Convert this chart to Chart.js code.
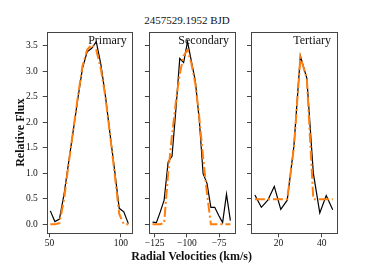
<!DOCTYPE html>
<html>
<head>
<meta charset="utf-8">
<script src="https://cdn.jsdelivr.net/npm/chart.js@4.4.0/dist/chart.umd.min.js"></script>
<style>
  html, body { margin: 0; padding: 0; background: #fff; }
  #fig { position: relative; width: 374px; height: 267px; overflow: hidden; font-family: "Liberation Serif", serif; }
  canvas { position: absolute; top: 0; }
  .txt { position: absolute; white-space: nowrap; color: #111; line-height: 1; }
  #title { font-size: 11px; top: 15px; left: 187px; transform: translateX(-50%); }
  #xlabel { font-size: 12px; font-weight: bold; top: 249.5px; left: 191.7px; transform: translateX(-50%); }
</style>
</head>
<body>
<div id="fig">
  <div class="txt" id="title">2457529.1952 BJD</div>
  <canvas id="c1" width="140" height="267" style="left:0px"></canvas>
  <canvas id="c2" width="113" height="267" style="left:129px"></canvas>
  <canvas id="c3" width="113" height="267" style="left:231px"></canvas>
  <div class="txt" id="xlabel">Radial Velocities (km/s)</div>
</div>
<script>
// values
const primaryVel = [50.5, 53.7, 56.9, 60.2, 63.4, 66.6, 69.8, 73.0, 76.3, 79.5, 82.7, 85.9, 89.1, 92.4, 95.6, 98.8, 102.0, 105.2];
const primaryObs = [0.26, 0.05, 0.10, 0.60, 1.22, 1.84, 2.46, 3.05, 3.38, 3.45, 3.58, 3.14, 2.52, 1.76, 1.05, 0.31, 0.24, 0.01];
const primaryFit = [0, 0, 0.02, 0.50, 1.20, 1.85, 2.50, 3.10, 3.42, 3.52, 3.42, 3.05, 2.50, 1.75, 0.98, 0.20, 0, 0];

const secondaryVel = [-126.6, -123.6, -120.6, -117.6, -114.5, -111.5, -108.5, -105.5, -102.5, -99.5, -96.5, -93.4, -90.4, -87.4, -84.4, -81.4, -78.4, -75.3, -72.3, -69.3, -66.3];
const secondaryObs = [0.04, 0.03, 0.24, 0.47, 1.22, 1.33, 2.25, 3.25, 3.17, 3.58, 3.20, 2.80, 2.05, 0.99, 0.80, 0.33, 0.33, 0.17, 0.03, 0.59, 0.07];
const secondaryFit = [0, 0, 0, 0.02, 1.00, 1.75, 2.40, 2.95, 3.30, 3.42, 3.15, 2.75, 2.10, 1.30, 0.60, 0, 0, 0, 0, 0, 0];

const tertiaryVel = [9.0, 12.0, 15.0, 18.0, 21.0, 24.0, 27.1, 30.1, 33.1, 36.1, 39.1, 42.1, 45.1];
const tertiaryObs = [0.57, 0.33, 0.47, 0.74, 0.29, 0.47, 1.53, 3.30, 2.86, 1.00, 0.22, 0.56, 0.28];
const tertiaryFit = [0.49, 0.49, 0.49, 0.49, 0.49, 0.49, 1.50, 3.28, 2.85, 0.49, 0.49, 0.49, 0.49];

const fluxTicks = [0, 0.5, 1.0, 1.5, 2.0, 2.5, 3.0, 3.5];
const primaryTicks = [50, 100];
const secondaryTicks = [-125, -100, -75];
const tertiaryTicks = [20, 40];

const serif = "'Liberation Serif', serif";
const axisColor = '#444';

// box round the plot and the name in the top right corner
const panelFrame = {
  id: 'panelFrame',
  afterDraw(chart, args, opts) {
    const {ctx, chartArea: a} = chart;
    ctx.save();
    ctx.strokeStyle = axisColor;
    ctx.lineWidth = 1;
    ctx.strokeRect(Math.round(a.left) + 0.5, Math.round(a.top) + 0.5,
                   Math.round(a.right) - Math.round(a.left), Math.round(a.bottom) - Math.round(a.top));
    ctx.fillStyle = '#111';
    ctx.font = "12px " + serif;
    ctx.textAlign = 'right';
    ctx.textBaseline = 'alphabetic';
    ctx.fillText(opts.text, a.right - 5.5, a.top + 12);
    ctx.restore();
  }
};

function minus(v) {
  return v < 0 ? '\u2212' + Math.abs(v) : String(v);
}

function makePanel(id, vel, obs, fit, xMin, xMax, xTicks, name, first, pad) {
  new Chart(document.getElementById(id), {
    type: 'scatter',
    data: {
      datasets: [
        {
          data: vel.map((v, i) => ({x: v, y: fit[i]})),
          showLine: true,
          borderColor: '#ff7f0e',
          borderWidth: 2,
          borderDash: [10, 3, 2, 3],
          pointRadius: 0
        },
        {
          data: vel.map((v, i) => ({x: v, y: obs[i]})),
          showLine: true,
          borderColor: '#000',
          borderWidth: 1.2,
          pointRadius: 0
        }
      ]
    },
    options: {
      responsive: false,
      animation: false,
      events: [],
      layout: { padding: pad },
      plugins: {
        legend: { display: false },
        tooltip: { enabled: false },
        panelFrame: { text: name }
      },
      scales: {
        x: {
          type: 'linear',
          min: xMin,
          max: xMax,
          afterBuildTicks: s => { s.ticks = xTicks.map(v => ({value: v})); },
          afterFit: s => { s.height = 33.7; },
          border: { display: false },
          grid: { drawOnChartArea: false, drawTicks: true, tickLength: 4, color: axisColor },
          ticks: { color: '#111', padding: 0, font: { family: serif, size: 9.5 }, callback: v => minus(v), maxRotation: 0 }
        },
        y: {
          min: -0.18,
          max: 3.77,
          afterBuildTicks: s => { s.ticks = fluxTicks.map(v => ({value: v})); },
          afterFit: s => { s.width = first ? 46.75 : 6; },
          border: { display: false },
          grid: { drawOnChartArea: false, drawTicks: true, tickLength: 4, color: axisColor },
          ticks: { display: first, color: '#111', padding: 5, font: { family: serif, size: 9.5 }, callback: v => v.toFixed(1) },
          title: {
            display: first,
            text: 'Relative Flux',
            color: '#111',
            font: { family: serif, size: 12, weight: 'bold' },
            padding: { top: 13.5, bottom: 0 }
          }
        }
      }
    },
    plugins: [panelFrame]
  });
}

makePanel('c1', primaryVel, primaryObs, primaryFit, 48.0, 108.0, primaryTicks, 'Primary', true,
          { left: 0, right: 7.65, top: 32, bottom: 0 });
makePanel('c2', secondaryVel, secondaryObs, secondaryFit, -129.4, -63.1, secondaryTicks, 'Secondary', false,
          { left: 13.9, right: 7.5, top: 32, bottom: 0 });
makePanel('c3', tertiaryVel, tertiaryObs, tertiaryFit, 7.2, 46.9, tertiaryTicks, 'Tertiary', false,
          { left: 14, right: 7.4, top: 32, bottom: 0 });
</script>
</body>
</html>
